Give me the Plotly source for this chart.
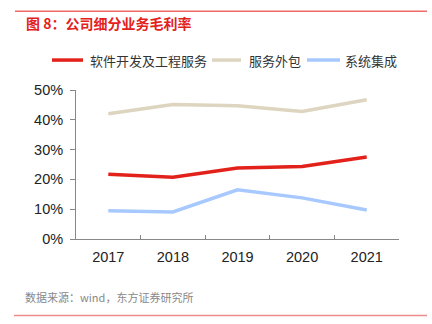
import plotly.graph_objects as go

years = ["2017", "2018", "2019", "2020", "2021"]
software = [0.217, 0.207, 0.238, 0.243, 0.275]
outsourcing = [0.420, 0.451, 0.447, 0.428, 0.467]
integration = [0.095, 0.091, 0.165, 0.138, 0.097]
names = ["软件开发及工程服务", "服务外包", "系统集成"]
colors = ["#E3211B", "#DDD5BF", "#A7C9FF"]
yticks = [0, 0.1, 0.2, 0.3, 0.4, 0.5]
ytext = ["0%", "10%", "20%", "30%", "40%", "50%"]

FONT = "Liberation Sans, Arial, Noto Sans CJK SC, sans-serif"
CJK = "Noto Sans CJK SC, sans-serif"

L, R, T, B = 76, 399, 90, 239.3
PW, PH = R - L, B - T

def px(x):
    return (x - L) / PW

def py(y):
    return (B - y) / PH

fig = go.Figure()
for vals, nm, c in zip([software, outsourcing, integration], names, colors):
    fig.add_trace(go.Scatter(x=years, y=vals, name=nm, mode="lines",
                             line=dict(color=c, width=3.5), showlegend=False))

fig.update_layout(
    width=432, height=324,
    margin=dict(l=L, r=432 - R, t=T, b=324 - B, autoexpand=False),
    paper_bgcolor="white", plot_bgcolor="white",
    font=dict(family=FONT, size=14.5, color="#222"),
    showlegend=False,
    xaxis=dict(type="category", range=[-0.5, 4.5], tickson="boundaries",
               ticks="inside", ticklen=4, tickcolor="#888",
               showline=True, linecolor="#888", linewidth=1,
               showgrid=False, zeroline=False, ticklabelstandoff=5,
               tickfont=dict(size=14.5, color="#222")),
    yaxis=dict(range=[0, 0.5], tickvals=yticks, ticktext=ytext,
               ticks="outside", ticklen=5, tickcolor="#888",
               showline=True, linecolor="#888", linewidth=1,
               showgrid=False, zeroline=False, ticklabelstandoff=4,
               tickfont=dict(size=14.5, color="#222")),
)

# legend (manual)
leg_y = 60
leg_items = [(52, 83, 88), (212, 241, 247), (307, 340, 343)]
for (x0, x1, tx), nm, c in zip(leg_items, names, colors):
    fig.add_shape(type="line", xref="paper", yref="paper",
                  x0=px(x0), x1=px(x1), y0=py(leg_y), y1=py(leg_y),
                  line=dict(color=c, width=3.5))
    fig.add_annotation(text=nm, xref="paper", yref="paper",
                       x=px(tx), y=py(leg_y), xanchor="left", yanchor="middle",
                       showarrow=False, font=dict(family=CJK, size=13, color="#333"))

fig.add_shape(type="line", xref="paper", yref="paper",
              x0=px(15), x1=px(427), y0=py(11), y1=py(11),
              line=dict(color="#E3211B", width=1))
fig.add_shape(type="line", xref="paper", yref="paper",
              x0=px(14), x1=px(427), y0=py(316), y1=py(316),
              line=dict(color="#EE8C8A", width=1.5))
fig.add_annotation(text="<b>图 8：公司细分业务毛利率</b>", xref="paper", yref="paper",
                   x=px(24), y=py(23), xanchor="left", yanchor="middle",
                   showarrow=False,
                   font=dict(family=CJK, size=14, color="#E3211B"))
fig.add_annotation(text="数据来源：wind，东方证券研究所", xref="paper", yref="paper",
                   x=px(23), y=py(297), xanchor="left", yanchor="middle",
                   showarrow=False,
                   font=dict(family=CJK, size=11, color="#888"))

fig.write_html("out.html")
